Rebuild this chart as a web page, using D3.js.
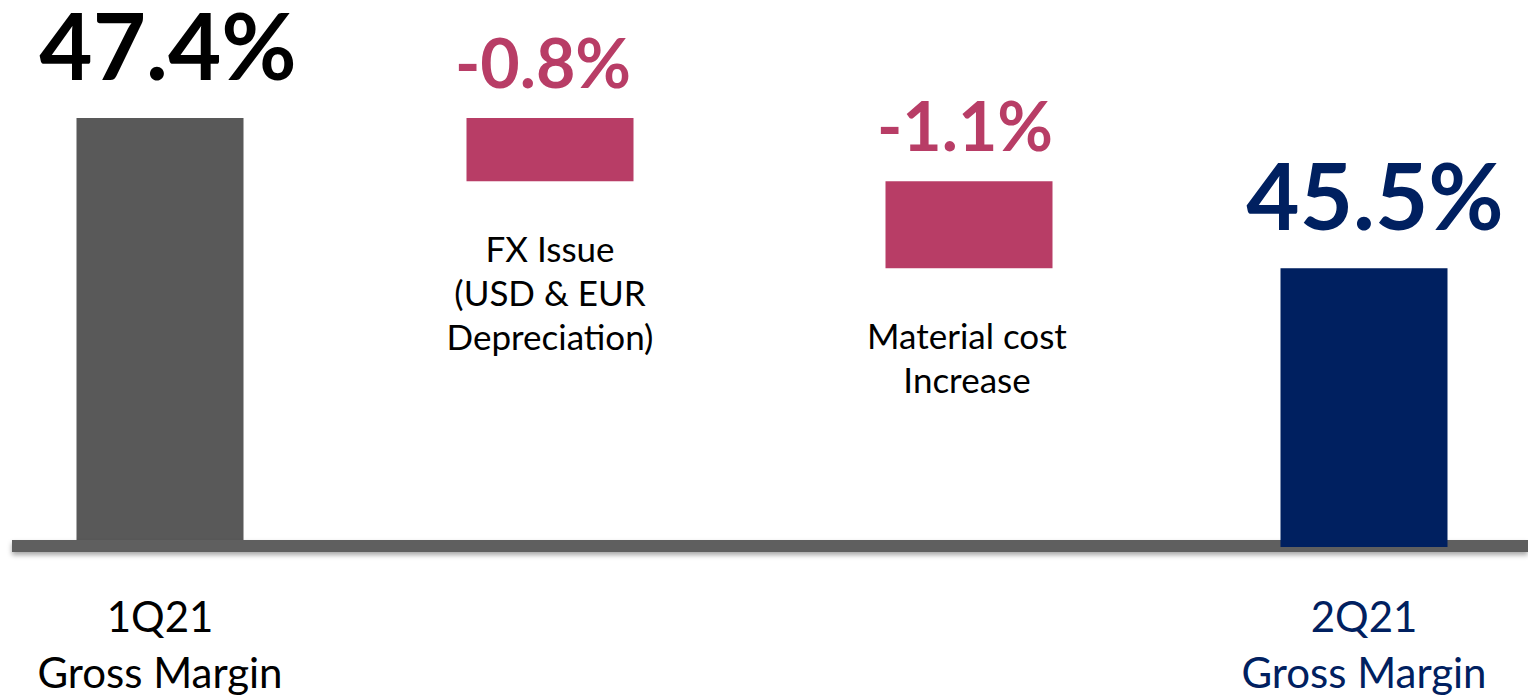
<!DOCTYPE html>
<html>
<head>
<meta charset="utf-8">
<script src="https://cdn.jsdelivr.net/npm/d3@7"></script>
<style>
  html, body { margin: 0; padding: 0; background: #fff; }
  svg { display: block; }
</style>
</head>
<body>
<div id="chart"></div>
<script>
// waterfall: 1Q21 GM -> 2Q21 GM
var categories = ["1Q21", "FX", "Material", "2Q21"];
var catLabels = [
  ["1Q21", "Gross Margin"],
  ["FX Issue", "(USD & EUR", "Depreciation)"],
  ["Material cost", "Increase"],
  ["2Q21", "Gross Margin"]
];
var values = [47.4, -0.8, -1.1, 45.5];
var kinds = ["total", "delta", "delta", "total"];
var valueLabels = ["47.4%", "-0.8%", "-1.1%", "45.5%"];
var axisFloor = 42; // value where the baseline sits

var width = 1528, height = 698;
var colors = { start: "#595959", delta: "#b83d66", end: "#002060" };

var svg = d3.select("#chart").append("svg")
  .attr("width", width)
  .attr("height", height);

var defs = svg.append("defs");
var shadow = defs.append("filter").attr("id", "shadow")
  .attr("x", "-5%").attr("y", "-50%").attr("width", "110%").attr("height", "250%");
shadow.append("feDropShadow")
  .attr("dx", 0).attr("dy", 3).attr("stdDeviation", 2.5)
  .attr("flood-color", "#000").attr("flood-opacity", 0.35);

// slide columns are not evenly spaced
var x = d3.scaleOrdinal().domain(categories).range([160, 550, 969, 1364]);
var y = d3.scaleLinear().domain([axisFloor, 47.4]).range([545, 118]);
var barW = 167;

// build waterfall rows
var running = 0;
var rows = categories.map(function (c, i) {
  var v = values[i], top, bottom;
  if (kinds[i] === "total") {
    running = v;
    top = v; bottom = axisFloor;
  } else {
    top = running; bottom = running + v;
    running = bottom;
  }
  return { cat: c, kind: kinds[i], top: top, bottom: bottom, i: i };
});

function barColor(d) {
  if (d.kind === "delta") return colors.delta;
  return d.i === 0 ? colors.start : colors.end;
}

// first total sits behind the axis line
var g = svg.append("g");
g.selectAll("rect.first")
  .data(rows.filter(function (d) { return d.i === 0; }))
  .enter().append("rect")
  .attr("x", function (d) { return x(d.cat) - barW / 2; })
  .attr("y", function (d) { return y(d.top); })
  .attr("width", barW)
  .attr("height", function (d) { return y(d.bottom) - y(d.top); })
  .attr("fill", barColor);

// axis line
g.append("rect")
  .attr("x", 12).attr("y", y(axisFloor) - 5)
  .attr("width", width - 12).attr("height", 12)
  .attr("fill", "#5f5f5f")
  .attr("filter", "url(#shadow)");

g.selectAll("rect.bar")
  .data(rows.filter(function (d) { return d.i !== 0; }))
  .enter().append("rect")
  .attr("class", "bar")
  .attr("x", function (d) { return x(d.cat) - barW / 2; })
  .attr("y", function (d) { return y(d.top); })
  .attr("width", barW)
  .attr("height", function (d) {
    return y(d.bottom) - y(d.top) + (d.kind === "total" ? 2 : 0);
  })
  .attr("fill", barColor);

// value labels
var labelShift = [8, -7, -4, 11];
g.selectAll("text.val")
  .data(rows)
  .enter().append("text")
  .attr("class", "val")
  .attr("x", function (d) { return x(d.cat) + labelShift[d.i]; })
  .attr("y", function (d) { return y(d.top) - (d.kind === "total" ? 38 : 30); })
  .attr("text-anchor", "middle")
  .attr("font-family", "Lato, 'Open Sans', sans-serif")
  .attr("font-weight", "bold")
  .attr("font-size", function (d) { return d.kind === "total" ? 92 : 68; })
  .attr("fill", function (d) { return d.i === 0 ? "#000" : barColor(d); })
  .text(function (d) { return valueLabels[d.i]; });

// category labels: totals under the axis, deltas under their bar
var cl = g.selectAll("text.cat")
  .data(rows)
  .enter().append("text")
  .attr("class", "cat")
  .attr("text-anchor", "middle")
  .attr("font-family", "Lato, 'Open Sans', sans-serif")
  .attr("font-size", function (d) { return d.kind === "total" ? 42 : 35; })
  .attr("fill", function (d) { return d.i === 3 ? colors.end : "#000"; })
  .attr("transform", function (d) {
    var ty = d.kind === "total" ? y(axisFloor) + 87 : y(d.bottom) + 81;
    return "translate(" + (x(d.cat) + (d.i === 2 ? -2 : 0)) + "," + ty + ")";
  });

cl.selectAll("tspan")
  .data(function (d) {
    return catLabels[d.i].map(function (t, k) { return { t: t, k: k, kind: d.kind }; });
  })
  .enter().append("tspan")
  .attr("x", 0)
  .attr("y", function (d) { return d.k * (d.kind === "total" ? 56 : 44); })
  .text(function (d) { return d.t; });
</script>
</body>
</html>
